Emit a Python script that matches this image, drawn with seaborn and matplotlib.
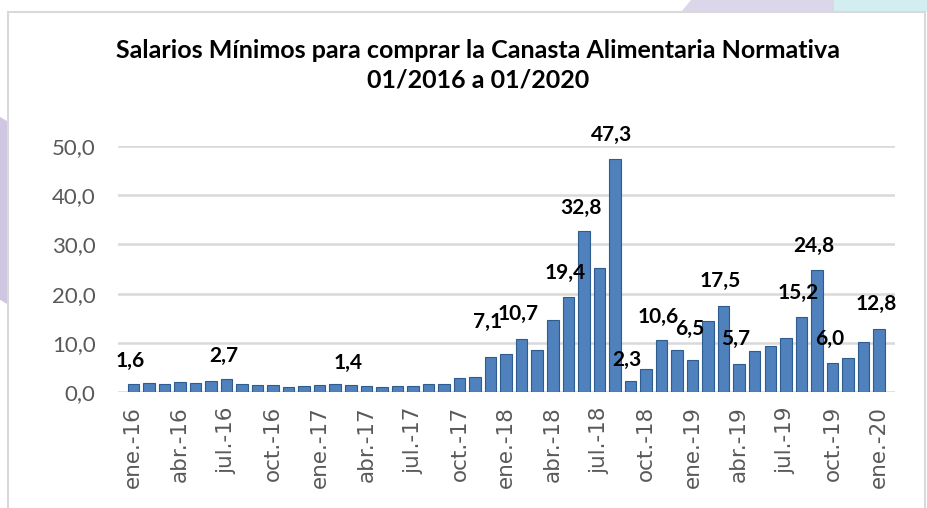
import pandas as pd
import seaborn as sns
import matplotlib.pyplot as plt
from matplotlib.patches import Rectangle, Polygon
from matplotlib.ticker import FuncFormatter

# Monthly periods ene-16 .. ene-20
months = ['ene.', 'feb.', 'mar.', 'abr.', 'may.', 'jun.',
          'jul.', 'ago.', 'sep.', 'oct.', 'nov.', 'dic.']
years = ['16', '17', '18', '19', '20']
periods = [m + '-' + y for y in years for m in months][:49]

# Minimum wages needed
values = [1.6, 1.9, 1.7, 2.0, 1.8, 2.3, 2.7, 1.6, 1.5, 1.5, 1.1, 1.3,
          1.5, 1.6, 1.4, 1.3, 1.1, 1.3, 1.3, 1.7, 1.7, 2.8, 3.0, 7.1,
          7.8, 10.7, 8.6, 14.6, 19.4, 32.8, 25.3, 47.3, 2.3, 4.7, 10.6, 8.6,
          6.5, 14.5, 17.5, 5.7, 8.4, 9.4, 10.9, 15.2, 24.8, 6.0, 7.0, 10.1,
          12.8]

# Bars that carry a data label, and extra lift of those labels
label_idx = [0, 6, 14, 23, 25, 28, 29, 31, 32, 34, 36, 38, 39, 43, 44, 45, 48]
label_lift = [4.8, 4.7, 4.6, 7.1, 5.1, 4.8, 4.5, 4.8, 4.3, 4.7, 6.3, 5.0, 5.1, 4.9, 4.8, 4.8, 5.0]

title_lines = ['Salarios Mínimos para comprar la Canasta Alimentaria Normativa',
               '01/2016 a 01/2020']

df = pd.DataFrame({'periodo': periods, 'salarios': values})

sns.set_style('white')
plt.rcParams['font.family'] = ['Lato', 'DejaVu Sans']

fig = plt.figure(figsize=(9.27, 5.08), dpi=100)

# background decoration of the slide
fig.patches.append(Polygon([[0.745, 1.0], [0.9, 1.0], [0.9, 0.976], [0.735, 0.976]],
                           closed=True, transform=fig.transFigure,
                           facecolor='#DCD6EA', edgecolor='none', zorder=-3))
fig.patches.append(Polygon([[0.9, 1.0], [1.0, 1.0], [1.0, 0.976], [0.9, 0.976]],
                           closed=True, transform=fig.transFigure,
                           facecolor='#D3EEF0', edgecolor='none', zorder=-3))
fig.patches.append(Polygon([[0.0, 0.77], [0.009, 0.76], [0.009, 0.40], [0.0, 0.41]],
                           closed=True, transform=fig.transFigure,
                           facecolor='#CFC6E2', edgecolor='none', zorder=-3))
fig.patches.append(Rectangle((0.009, -0.05), 0.989, 1.026, transform=fig.transFigure,
                             facecolor='white', edgecolor='#D9D9D9', linewidth=1.5, zorder=-2))

ax = fig.add_axes([0.127, 0.228, 0.838, 0.485])
ax.set_facecolor('none')
ax.set_zorder(2)

sns.barplot(data=df, x='periodo', y='salarios', color='#4F81BD', width=0.74,
            edgecolor='#2F5C8F', linewidth=0.8, saturation=1, ax=ax, zorder=3)

for i, lift in zip(label_idx, label_lift):
    ax.text(i - 0.2, values[i] + lift, f'{values[i]:.1f}'.replace('.', ','),
            ha='center', va='center', fontsize=15, fontweight='bold', color='black')

ax.set_xlim(-1, 49)
ax.set_ylim(0, 50)
ax.set_yticks([0, 10, 20, 30, 40, 50])
ax.yaxis.set_major_formatter(FuncFormatter(lambda v, p: f'{v:.1f}'.replace('.', ',')))
ax.yaxis.grid(True, color='#D9D9D9', linewidth=1.8, zorder=0)
ax.set_axisbelow(True)

ax.set_xticks(range(0, 49, 3))
ax.set_xticklabels([periods[i] for i in range(0, 49, 3)], rotation=90,
                   family='DejaVu Sans')
ax.tick_params(axis='x', length=0, pad=10, labelsize=15.5, colors='#595959')
ax.tick_params(axis='y', length=0, pad=16, labelsize=16, colors='#595959')
ax.set_xlabel('')
ax.set_ylabel('')
sns.despine(ax=ax, left=True, bottom=True)

fig.text(0.516, 1 - 50 / 508, title_lines[0], ha='center', va='center',
         fontsize=18, fontweight='bold', color='black')
fig.text(0.516, 1 - 80 / 508, title_lines[1], ha='center', va='center',
         fontsize=18, fontweight='bold', color='black')

fig.savefig('out.png', dpi=100)
